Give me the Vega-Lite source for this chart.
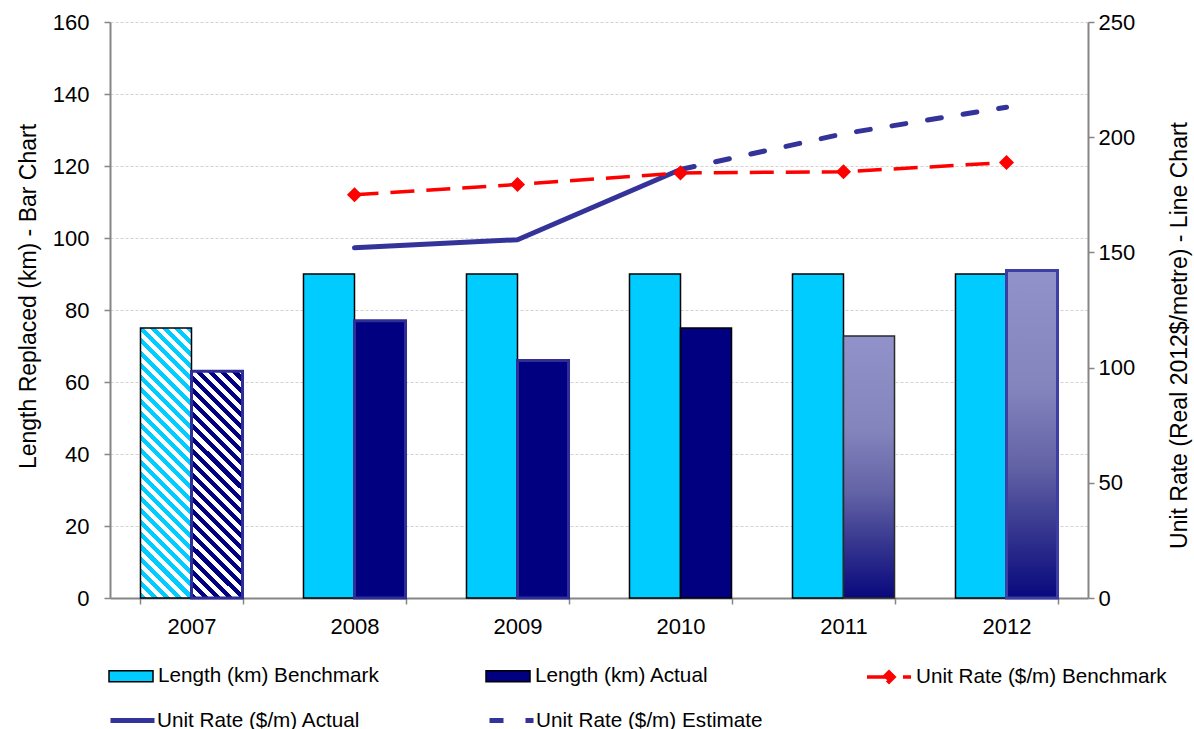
{
  "$schema": "https://vega.github.io/schema/vega-lite/v6.json",
  "width": 978,
  "height": 576,
  "autosize": {"type": "none"},
  "padding": {"left": 110, "top": 22, "right": 106, "bottom": 131},
  "background": "white",
  "config": {
    "view": {"stroke": null},
    "font": "Liberation Sans",
    "axis": {
      "labelFont": "Liberation Sans",
      "titleFont": "Liberation Sans",
      "labelFontSize": 22,
      "titleFontSize": 23,
      "titleFontWeight": "normal",
      "labelColor": "#000000",
      "titleColor": "#000000",
      "domainColor": "#868686",
      "domainWidth": 2,
      "tickColor": "#868686",
      "tickWidth": 1.5,
      "tickSize": 6
    },
    "legend": {
      "title": null,
      "orient": "none",
      "padding": 0,
      "symbolSize": 1936,
      "labelOffset": 5,
      "labelFont": "Liberation Sans",
      "labelFontSize": 20.7,
      "labelColor": "#000000",
      "labelLimit": 400
    }
  },
  "datasets": {
    "lengths": [
      {"year": "2007", "series": "Length (km) Benchmark", "km": 75},
      {"year": "2007", "series": "Length (km) Actual", "km": 63},
      {"year": "2008", "series": "Length (km) Benchmark", "km": 90},
      {"year": "2008", "series": "Length (km) Actual", "km": 77},
      {"year": "2009", "series": "Length (km) Benchmark", "km": 90},
      {"year": "2009", "series": "Length (km) Actual", "km": 66},
      {"year": "2010", "series": "Length (km) Benchmark", "km": 90},
      {"year": "2010", "series": "Length (km) Actual", "km": 75},
      {"year": "2011", "series": "Length (km) Benchmark", "km": 90},
      {"year": "2011", "series": "Length (km) Actual", "km": 72.8},
      {"year": "2012", "series": "Length (km) Benchmark", "km": 90},
      {"year": "2012", "series": "Length (km) Actual", "km": 91}
    ],
    "rates": [
      {"year": "2008", "series": "Unit Rate ($/m) Benchmark", "rate": 175},
      {"year": "2009", "series": "Unit Rate ($/m) Benchmark", "rate": 179.5},
      {"year": "2010", "series": "Unit Rate ($/m) Benchmark", "rate": 184.5},
      {"year": "2011", "series": "Unit Rate ($/m) Benchmark", "rate": 185},
      {"year": "2012", "series": "Unit Rate ($/m) Benchmark", "rate": 189},
      {"year": "2008", "series": "Unit Rate ($/m) Actual", "rate": 152},
      {"year": "2009", "series": "Unit Rate ($/m) Actual", "rate": 155.5},
      {"year": "2010", "series": "Unit Rate ($/m) Actual", "rate": 186},
      {"year": "2010", "series": "Unit Rate ($/m) Estimate", "rate": 186},
      {"year": "2011", "series": "Unit Rate ($/m) Estimate", "rate": 201.5},
      {"year": "2012", "series": "Unit Rate ($/m) Estimate", "rate": 213}
    ]
  },
  "encoding": {
    "x": {
      "field": "year",
      "type": "nominal",
      "scale": {"domain": ["2007", "2008", "2009", "2010", "2011", "2012"], "paddingInner": 0.374, "paddingOuter": 0.187},
      "axis": {"title": null, "labelAngle": 0, "tickBand": "extent", "labelPadding": 12, "grid": false}
    }
  },
  "layer": [
    {
      "data": {"name": "lengths"},
      "encoding": {
        "xOffset": {"field": "series", "type": "nominal", "scale": {"domain": ["Length (km) Benchmark", "Length (km) Actual"], "paddingInner": 0, "paddingOuter": 0}},
        "y": {
          "field": "km",
          "type": "quantitative",
          "scale": {"domain": [0, 160], "nice": false},
          "axis": {
            "title": "Length Replaced (km) - Bar Chart",
            "titleY": 274,
            "values": [0, 20, 40, 60, 80, 100, 120, 140, 160],
            "grid": true,
            "gridColor": "#d2d2d2",
            "gridDash": [3, 2],
            "gridWidth": 1,
            "labelPadding": 15,
            "titlePadding": 12
          }
        }
      },
      "layer": [
        {
          "transform": [{"filter": "datum.year !== '2007' && !(datum.series === 'Length (km) Actual' && (datum.year === '2011' || datum.year === '2012'))"}],
          "mark": {"type": "bar"},
          "encoding": {
            "color": {
              "field": "series",
              "type": "nominal",
              "scale": {"domain": ["Length (km) Benchmark", "Length (km) Actual"], "range": ["#00CCFF", "#000080"]},
              "legend": {
                "legendX": -2,
                "legendY": 631,
                "direction": "horizontal",
                "columns": 2,
                "gridAlign": "all",
                "columnPadding": 104,
                "labelOffset": 4,
                "symbolType": "M-1,-0.25H1V0.25H-1Z",
                "symbolStrokeColor": "#000000",
                "symbolStrokeWidth": 1.5
              }
            },
            "stroke": {"condition": {"test": "datum.series === 'Length (km) Actual' && datum.year !== '2010'", "value": "#2E2E96"}, "value": "#000000"},
            "strokeWidth": {"condition": {"test": "datum.series === 'Length (km) Actual' && datum.year !== '2010'", "value": 3}, "value": 1.5}
          }
        },
        {
          "transform": [{"filter": "datum.series === 'Length (km) Actual' && (datum.year === '2011' || datum.year === '2012')"}],
          "mark": {
            "type": "bar",
            "fill": {
              "gradient": "linear",
              "x1": 0, "y1": 0, "x2": 0, "y2": 1,
              "stops": [
                {"offset": 0, "color": "#9292CA"},
                {"offset": 0.35, "color": "#8585BE"},
                {"offset": 0.6, "color": "#6262A6"},
                {"offset": 0.8, "color": "#34348E"},
                {"offset": 1, "color": "#08087E"}
              ]
            }
          },
          "encoding": {
            "stroke": {"condition": {"test": "datum.year === '2012'", "value": "#3D3DA3"}, "value": "#2A2A2A"},
            "strokeWidth": {"condition": {"test": "datum.year === '2012'", "value": 3}, "value": 1.5}
          }
        },
        {
          "transform": [{"filter": "datum.year === '2007' && datum.series === 'Length (km) Benchmark'"}],
          "mark": {
            "type": "bar",
            "stroke": "#000000",
            "strokeWidth": 1.5,
            "fill": {
              "gradient": "linear",
              "x1": 0, "y1": 1, "x2": 0.2293, "y2": -0.2137,
              "stops": [
                {"offset": 0, "color": "#00CCFF"},
                {"offset": 0.0179, "color": "#00CCFF"}, {"offset": 0.0179, "color": "#FFFFFF"},
                {"offset": 0.0357, "color": "#FFFFFF"}, {"offset": 0.0357, "color": "#00CCFF"},
                {"offset": 0.0536, "color": "#00CCFF"}, {"offset": 0.0536, "color": "#FFFFFF"},
                {"offset": 0.0714, "color": "#FFFFFF"}, {"offset": 0.0714, "color": "#00CCFF"},
                {"offset": 0.0893, "color": "#00CCFF"}, {"offset": 0.0893, "color": "#FFFFFF"},
                {"offset": 0.1071, "color": "#FFFFFF"}, {"offset": 0.1071, "color": "#00CCFF"},
                {"offset": 0.125, "color": "#00CCFF"}, {"offset": 0.125, "color": "#FFFFFF"},
                {"offset": 0.1429, "color": "#FFFFFF"}, {"offset": 0.1429, "color": "#00CCFF"},
                {"offset": 0.1607, "color": "#00CCFF"}, {"offset": 0.1607, "color": "#FFFFFF"},
                {"offset": 0.1786, "color": "#FFFFFF"}, {"offset": 0.1786, "color": "#00CCFF"},
                {"offset": 0.1964, "color": "#00CCFF"}, {"offset": 0.1964, "color": "#FFFFFF"},
                {"offset": 0.2143, "color": "#FFFFFF"}, {"offset": 0.2143, "color": "#00CCFF"},
                {"offset": 0.2321, "color": "#00CCFF"}, {"offset": 0.2321, "color": "#FFFFFF"},
                {"offset": 0.25, "color": "#FFFFFF"}, {"offset": 0.25, "color": "#00CCFF"},
                {"offset": 0.2679, "color": "#00CCFF"}, {"offset": 0.2679, "color": "#FFFFFF"},
                {"offset": 0.2857, "color": "#FFFFFF"}, {"offset": 0.2857, "color": "#00CCFF"},
                {"offset": 0.3036, "color": "#00CCFF"}, {"offset": 0.3036, "color": "#FFFFFF"},
                {"offset": 0.3214, "color": "#FFFFFF"}, {"offset": 0.3214, "color": "#00CCFF"},
                {"offset": 0.3393, "color": "#00CCFF"}, {"offset": 0.3393, "color": "#FFFFFF"},
                {"offset": 0.3571, "color": "#FFFFFF"}, {"offset": 0.3571, "color": "#00CCFF"},
                {"offset": 0.375, "color": "#00CCFF"}, {"offset": 0.375, "color": "#FFFFFF"},
                {"offset": 0.3929, "color": "#FFFFFF"}, {"offset": 0.3929, "color": "#00CCFF"},
                {"offset": 0.4107, "color": "#00CCFF"}, {"offset": 0.4107, "color": "#FFFFFF"},
                {"offset": 0.4286, "color": "#FFFFFF"}, {"offset": 0.4286, "color": "#00CCFF"},
                {"offset": 0.4464, "color": "#00CCFF"}, {"offset": 0.4464, "color": "#FFFFFF"},
                {"offset": 0.4643, "color": "#FFFFFF"}, {"offset": 0.4643, "color": "#00CCFF"},
                {"offset": 0.4821, "color": "#00CCFF"}, {"offset": 0.4821, "color": "#FFFFFF"},
                {"offset": 0.5, "color": "#FFFFFF"}, {"offset": 0.5, "color": "#00CCFF"},
                {"offset": 0.5179, "color": "#00CCFF"}, {"offset": 0.5179, "color": "#FFFFFF"},
                {"offset": 0.5357, "color": "#FFFFFF"}, {"offset": 0.5357, "color": "#00CCFF"},
                {"offset": 0.5536, "color": "#00CCFF"}, {"offset": 0.5536, "color": "#FFFFFF"},
                {"offset": 0.5714, "color": "#FFFFFF"}, {"offset": 0.5714, "color": "#00CCFF"},
                {"offset": 0.5893, "color": "#00CCFF"}, {"offset": 0.5893, "color": "#FFFFFF"},
                {"offset": 0.6071, "color": "#FFFFFF"}, {"offset": 0.6071, "color": "#00CCFF"},
                {"offset": 0.625, "color": "#00CCFF"}, {"offset": 0.625, "color": "#FFFFFF"},
                {"offset": 0.6429, "color": "#FFFFFF"}, {"offset": 0.6429, "color": "#00CCFF"},
                {"offset": 0.6607, "color": "#00CCFF"}, {"offset": 0.6607, "color": "#FFFFFF"},
                {"offset": 0.6786, "color": "#FFFFFF"}, {"offset": 0.6786, "color": "#00CCFF"},
                {"offset": 0.6964, "color": "#00CCFF"}, {"offset": 0.6964, "color": "#FFFFFF"},
                {"offset": 0.7143, "color": "#FFFFFF"}, {"offset": 0.7143, "color": "#00CCFF"},
                {"offset": 0.7321, "color": "#00CCFF"}, {"offset": 0.7321, "color": "#FFFFFF"},
                {"offset": 0.75, "color": "#FFFFFF"}, {"offset": 0.75, "color": "#00CCFF"},
                {"offset": 0.7679, "color": "#00CCFF"}, {"offset": 0.7679, "color": "#FFFFFF"},
                {"offset": 0.7857, "color": "#FFFFFF"}, {"offset": 0.7857, "color": "#00CCFF"},
                {"offset": 0.8036, "color": "#00CCFF"}, {"offset": 0.8036, "color": "#FFFFFF"},
                {"offset": 0.8214, "color": "#FFFFFF"}, {"offset": 0.8214, "color": "#00CCFF"},
                {"offset": 0.8393, "color": "#00CCFF"}, {"offset": 0.8393, "color": "#FFFFFF"},
                {"offset": 0.8571, "color": "#FFFFFF"}, {"offset": 0.8571, "color": "#00CCFF"},
                {"offset": 0.875, "color": "#00CCFF"}, {"offset": 0.875, "color": "#FFFFFF"},
                {"offset": 0.8929, "color": "#FFFFFF"}, {"offset": 0.8929, "color": "#00CCFF"},
                {"offset": 0.9107, "color": "#00CCFF"}, {"offset": 0.9107, "color": "#FFFFFF"},
                {"offset": 0.9286, "color": "#FFFFFF"}, {"offset": 0.9286, "color": "#00CCFF"},
                {"offset": 0.9464, "color": "#00CCFF"}, {"offset": 0.9464, "color": "#FFFFFF"},
                {"offset": 0.9643, "color": "#FFFFFF"}, {"offset": 0.9643, "color": "#00CCFF"},
                {"offset": 0.9821, "color": "#00CCFF"}, {"offset": 0.9821, "color": "#FFFFFF"},
                {"offset": 1, "color": "#FFFFFF"}
              ]
            }
          }
        },
        {
          "transform": [{"filter": "datum.year === '2007' && datum.series === 'Length (km) Actual'"}],
          "mark": {
            "type": "bar",
            "stroke": "#2E2E96",
            "strokeWidth": 3,
            "fill": {
              "gradient": "linear",
              "x1": 0, "y1": 1, "x2": 0.3198, "y2": -0.4233,
              "stops": [
                {"offset": 0, "color": "#000080"},
                {"offset": 0.0179, "color": "#000080"}, {"offset": 0.0179, "color": "#FFFFFF"},
                {"offset": 0.0357, "color": "#FFFFFF"}, {"offset": 0.0357, "color": "#000080"},
                {"offset": 0.0536, "color": "#000080"}, {"offset": 0.0536, "color": "#FFFFFF"},
                {"offset": 0.0714, "color": "#FFFFFF"}, {"offset": 0.0714, "color": "#000080"},
                {"offset": 0.0893, "color": "#000080"}, {"offset": 0.0893, "color": "#FFFFFF"},
                {"offset": 0.1071, "color": "#FFFFFF"}, {"offset": 0.1071, "color": "#000080"},
                {"offset": 0.125, "color": "#000080"}, {"offset": 0.125, "color": "#FFFFFF"},
                {"offset": 0.1429, "color": "#FFFFFF"}, {"offset": 0.1429, "color": "#000080"},
                {"offset": 0.1607, "color": "#000080"}, {"offset": 0.1607, "color": "#FFFFFF"},
                {"offset": 0.1786, "color": "#FFFFFF"}, {"offset": 0.1786, "color": "#000080"},
                {"offset": 0.1964, "color": "#000080"}, {"offset": 0.1964, "color": "#FFFFFF"},
                {"offset": 0.2143, "color": "#FFFFFF"}, {"offset": 0.2143, "color": "#000080"},
                {"offset": 0.2321, "color": "#000080"}, {"offset": 0.2321, "color": "#FFFFFF"},
                {"offset": 0.25, "color": "#FFFFFF"}, {"offset": 0.25, "color": "#000080"},
                {"offset": 0.2679, "color": "#000080"}, {"offset": 0.2679, "color": "#FFFFFF"},
                {"offset": 0.2857, "color": "#FFFFFF"}, {"offset": 0.2857, "color": "#000080"},
                {"offset": 0.3036, "color": "#000080"}, {"offset": 0.3036, "color": "#FFFFFF"},
                {"offset": 0.3214, "color": "#FFFFFF"}, {"offset": 0.3214, "color": "#000080"},
                {"offset": 0.3393, "color": "#000080"}, {"offset": 0.3393, "color": "#FFFFFF"},
                {"offset": 0.3571, "color": "#FFFFFF"}, {"offset": 0.3571, "color": "#000080"},
                {"offset": 0.375, "color": "#000080"}, {"offset": 0.375, "color": "#FFFFFF"},
                {"offset": 0.3929, "color": "#FFFFFF"}, {"offset": 0.3929, "color": "#000080"},
                {"offset": 0.4107, "color": "#000080"}, {"offset": 0.4107, "color": "#FFFFFF"},
                {"offset": 0.4286, "color": "#FFFFFF"}, {"offset": 0.4286, "color": "#000080"},
                {"offset": 0.4464, "color": "#000080"}, {"offset": 0.4464, "color": "#FFFFFF"},
                {"offset": 0.4643, "color": "#FFFFFF"}, {"offset": 0.4643, "color": "#000080"},
                {"offset": 0.4821, "color": "#000080"}, {"offset": 0.4821, "color": "#FFFFFF"},
                {"offset": 0.5, "color": "#FFFFFF"}, {"offset": 0.5, "color": "#000080"},
                {"offset": 0.5179, "color": "#000080"}, {"offset": 0.5179, "color": "#FFFFFF"},
                {"offset": 0.5357, "color": "#FFFFFF"}, {"offset": 0.5357, "color": "#000080"},
                {"offset": 0.5536, "color": "#000080"}, {"offset": 0.5536, "color": "#FFFFFF"},
                {"offset": 0.5714, "color": "#FFFFFF"}, {"offset": 0.5714, "color": "#000080"},
                {"offset": 0.5893, "color": "#000080"}, {"offset": 0.5893, "color": "#FFFFFF"},
                {"offset": 0.6071, "color": "#FFFFFF"}, {"offset": 0.6071, "color": "#000080"},
                {"offset": 0.625, "color": "#000080"}, {"offset": 0.625, "color": "#FFFFFF"},
                {"offset": 0.6429, "color": "#FFFFFF"}, {"offset": 0.6429, "color": "#000080"},
                {"offset": 0.6607, "color": "#000080"}, {"offset": 0.6607, "color": "#FFFFFF"},
                {"offset": 0.6786, "color": "#FFFFFF"}, {"offset": 0.6786, "color": "#000080"},
                {"offset": 0.6964, "color": "#000080"}, {"offset": 0.6964, "color": "#FFFFFF"},
                {"offset": 0.7143, "color": "#FFFFFF"}, {"offset": 0.7143, "color": "#000080"},
                {"offset": 0.7321, "color": "#000080"}, {"offset": 0.7321, "color": "#FFFFFF"},
                {"offset": 0.75, "color": "#FFFFFF"}, {"offset": 0.75, "color": "#000080"},
                {"offset": 0.7679, "color": "#000080"}, {"offset": 0.7679, "color": "#FFFFFF"},
                {"offset": 0.7857, "color": "#FFFFFF"}, {"offset": 0.7857, "color": "#000080"},
                {"offset": 0.8036, "color": "#000080"}, {"offset": 0.8036, "color": "#FFFFFF"},
                {"offset": 0.8214, "color": "#FFFFFF"}, {"offset": 0.8214, "color": "#000080"},
                {"offset": 0.8393, "color": "#000080"}, {"offset": 0.8393, "color": "#FFFFFF"},
                {"offset": 0.8571, "color": "#FFFFFF"}, {"offset": 0.8571, "color": "#000080"},
                {"offset": 0.875, "color": "#000080"}, {"offset": 0.875, "color": "#FFFFFF"},
                {"offset": 0.8929, "color": "#FFFFFF"}, {"offset": 0.8929, "color": "#000080"},
                {"offset": 0.9107, "color": "#000080"}, {"offset": 0.9107, "color": "#FFFFFF"},
                {"offset": 0.9286, "color": "#FFFFFF"}, {"offset": 0.9286, "color": "#000080"},
                {"offset": 0.9464, "color": "#000080"}, {"offset": 0.9464, "color": "#FFFFFF"},
                {"offset": 0.9643, "color": "#FFFFFF"}, {"offset": 0.9643, "color": "#000080"},
                {"offset": 0.9821, "color": "#000080"}, {"offset": 0.9821, "color": "#FFFFFF"},
                {"offset": 1, "color": "#FFFFFF"}
              ]
            }
          }
        }
      ]
    },
    {
      "data": {"name": "rates"},
      "encoding": {
        "y": {
          "field": "rate",
          "type": "quantitative",
          "scale": {"domain": [0, 250], "nice": false},
          "axis": {
            "orient": "right",
            "title": "Unit Rate (Real 2012$/metre) - Line Chart",
            "titleAngle": -90,
            "titleBaseline": "top",
            "titleY": 313,
            "values": [0, 50, 100, 150, 200, 250],
            "grid": false,
            "labelPadding": 4,
            "titlePadding": 34
          }
        }
      },
      "layer": [
        {
          "transform": [{"filter": "datum.series === 'Unit Rate ($/m) Actual'"}],
          "mark": {"type": "line", "strokeWidth": 5, "strokeCap": "round", "strokeJoin": "round"},
          "encoding": {
            "stroke": {
              "field": "series",
              "type": "nominal",
              "scale": {"domain": ["Unit Rate ($/m) Actual"], "range": ["#333399"]},
              "legend": {"legendX": -2, "legendY": 674, "labelOffset": 0, "symbolType": "M-1,0H1", "symbolStrokeWidth": 5}
            }
          }
        },
        {
          "transform": [{"filter": "datum.series === 'Unit Rate ($/m) Estimate'"}],
          "mark": {"type": "line", "strokeWidth": 5, "strokeCap": "round", "strokeDash": [14, 22]},
          "encoding": {
            "stroke": {
              "field": "series",
              "type": "nominal",
              "scale": {"domain": ["Unit Rate ($/m) Estimate"], "range": ["#333399"]},
              "legend": {"legendX": 377, "legendY": 674, "labelOffset": 0, "symbolType": "M-1,0H1", "symbolStrokeWidth": 5, "symbolDash": [14, 22]}
            }
          }
        },
        {
          "transform": [{"filter": "datum.series === 'Unit Rate ($/m) Benchmark'"}],
          "mark": {"type": "line", "strokeWidth": 3.5, "strokeDash": [24, 12], "point": {"shape": "diamond", "filled": true, "size": 150, "color": "#FF0000", "opacity": 1}},
          "encoding": {
            "stroke": {
              "field": "series",
              "type": "nominal",
              "scale": {"domain": ["Unit Rate ($/m) Benchmark"], "range": ["#FF0000"]},
              "legend": {"legendX": 755, "legendY": 631, "labelOffset": 3, "symbolType": "M-1,0H1M-0.23,0L0,-0.23L0.23,0L0,0.23Z", "symbolFillColor": "#FF0000", "symbolStrokeWidth": 3.5, "symbolDash": [24, 12]}
            }
          }
        }
      ],
      "resolve": {"scale": {"stroke": "independent"}}
    }
  ],
  "resolve": {"scale": {"y": "independent"}}
}
